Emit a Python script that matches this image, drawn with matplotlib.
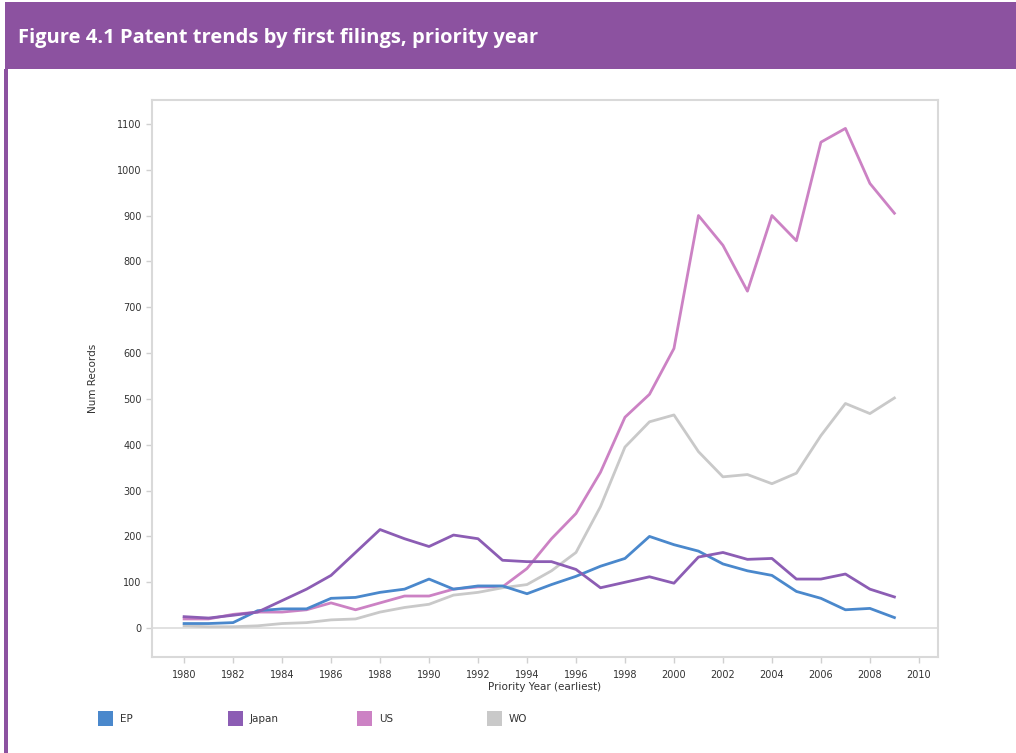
import matplotlib
matplotlib.use("Agg")
import matplotlib.pyplot as plt
from matplotlib.patches import Rectangle

years = list(range(1980, 2010))
ep = [10, 10, 12, 38, 42, 42, 65, 67, 78, 85, 107, 85, 92, 92, 75, 95, 113, 135, 152, 200,
      182, 168, 140, 125, 115, 80, 65, 40, 43, 23]
japan = [25, 22, 28, 35, 60, 85, 115, 165, 215, 195, 178, 203, 195, 148, 145, 145, 128, 88, 100, 112,
         98, 155, 165, 150, 152, 107, 107, 118, 85, 68]
us = [20, 20, 30, 35, 35, 40, 55, 40, 55, 70, 70, 85, 90, 90, 130, 195, 250, 340, 460, 510,
      610, 900, 835, 735, 900, 845, 1060, 1090, 970, 905]
wo = [5, 3, 3, 5, 10, 12, 18, 20, 35, 45, 52, 72, 78, 88, 95, 125, 165, 265, 395, 450,
      465, 385, 330, 335, 315, 338, 420, 490, 468, 502]

series_names = ["EP", "Japan", "US", "WO"]
series_colors = ["#4a88cc", "#8c5db4", "#cc82c4", "#c9c9c9"]
series_data = [ep, japan, us, wo]

title = "Figure 4.1 Patent trends by first filings, priority year"
xticks = list(range(1980, 2011, 2))
yticks = list(range(0, 1101, 100))

W, H = 1016, 753
fig = plt.figure(figsize=(W / 100, H / 100), dpi=100)
fig.patch.set_facecolor("white")

purple = "#8c52a0"
# header band
fig.patches.append(Rectangle((5 / W, 1 - 69 / H), 1 - 5 / W, 67 / H, transform=fig.transFigure,
                             facecolor=purple, edgecolor="none", zorder=0))
# left border
fig.patches.append(Rectangle((4 / W, 0), 3.5 / W, 1 - 69 / H, transform=fig.transFigure,
                             facecolor=purple, edgecolor="none", zorder=0))
fig.text(18 / W, 1 - 38 / H, title, color="white", fontsize=14.5, fontweight="bold",
         family="Open Sans", va="center", ha="left")

ax = fig.add_axes([152 / W, 1 - 657 / H, (938 - 152) / W, (657 - 100) / H])
for name, col, data in zip(series_names, series_colors, series_data):
    ax.plot(years, data, color=col, lw=2.0, zorder=3 + (1 if name in ("EP", "Japan") else 0),
            solid_joinstyle="round")

ax.set_xlim(1978.69, 2010.78)
ax.set_ylim(-63, 1152)
ax.axhline(0, color="#dcdcdc", lw=1.2, zorder=1)
for s in ax.spines.values():
    s.set_color("#d9d9d9")
    s.set_linewidth(1.5)
ax.set_xticks(xticks)
ax.set_yticks(yticks)
ax.tick_params(axis="both", labelsize=7, colors="#d0d0d0", labelcolor="#333333", length=4, width=1)
ax.tick_params(axis="x", pad=5)
ax.set_xlabel("Priority Year (earliest)", fontsize=7.5, color="#333333", labelpad=2)
ax.set_ylabel("Num Records", fontsize=7.5, color="#333333", labelpad=14)

# legend
leg_x = [98, 228, 357, 487]
for x, name, col in zip(leg_x, series_names, series_colors):
    fig.patches.append(Rectangle((x / W, 1 - 726 / H), 15 / W, 15 / H, transform=fig.transFigure,
                                 facecolor=col, edgecolor="none"))
    fig.text((x + 22) / W, 1 - 718.5 / H, name, fontsize=7.5, color="#333333", va="center", ha="left")

fig.savefig("out.png", dpi=100)
